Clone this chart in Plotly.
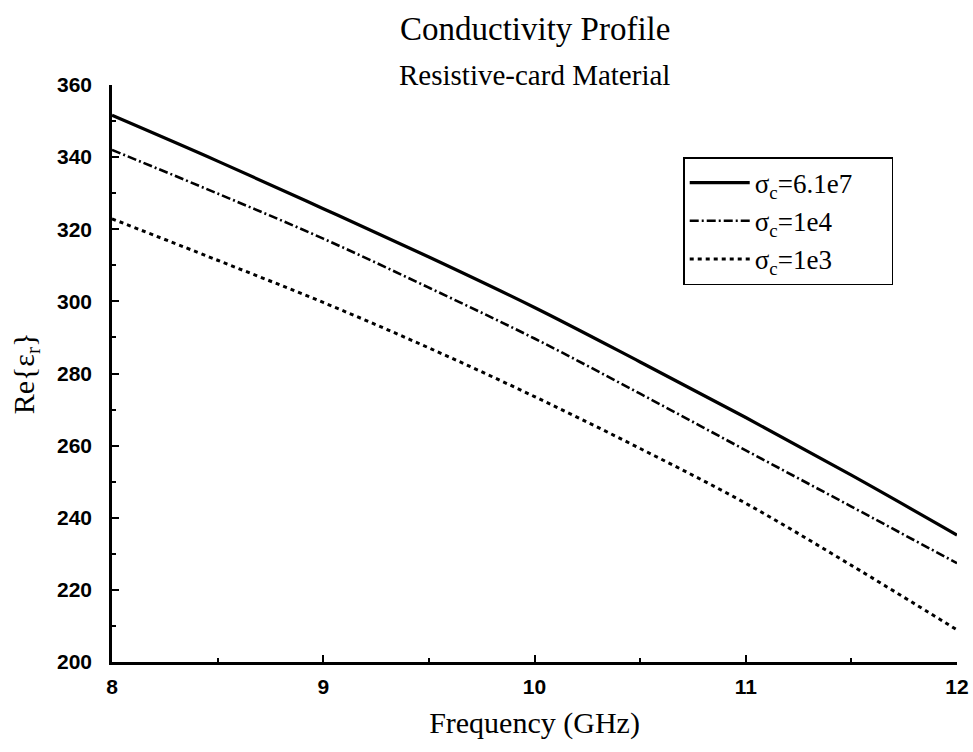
import plotly.graph_objects as go

freq = [8.0, 8.5, 9.0, 9.5, 10.0, 10.5, 11.0, 11.5, 12.0]
eps_61e7 = [351.6, 338.9, 325.7, 312.3, 298.3, 283.2, 267.8, 251.8, 235.2]
eps_1e4 = [342.0, 329.9, 317.4, 303.8, 289.7, 274.4, 258.7, 243.1, 227.4]
eps_1e3 = [322.9, 311.4, 299.7, 287.1, 273.6, 259.2, 244.0, 226.8, 208.9]
names = ["σ<sub>c</sub>=6.1e7\u00a0\u00a0\u00a0\u00a0\u00a0", "σ<sub>c</sub>=1e4", "σ<sub>c</sub>=1e3"]

serif = "Liberation Serif, Times New Roman, serif"
sans = "Liberation Sans, Arial, sans-serif"

fig = go.Figure()
fig.add_trace(go.Scatter(x=freq, y=eps_61e7, mode="lines", name=names[0],
                         line=dict(color="black", width=3.2, dash="solid", shape="spline", smoothing=1.0)))
fig.add_trace(go.Scatter(x=freq, y=eps_1e4, mode="lines", name=names[1],
                         line=dict(color="black", width=2.6, dash="9px,3px,2px,3px", shape="spline", smoothing=1.0)))
fig.add_trace(go.Scatter(x=freq, y=eps_1e3, mode="lines", name=names[2],
                         line=dict(color="black", width=3, dash="4px,4px", shape="spline", smoothing=1.0)))

fig.update_layout(
    width=973, height=752,
    margin=dict(l=112, r=16, t=85, b=90),
    paper_bgcolor="white", plot_bgcolor="white",
    showlegend=True,
    legend=dict(x=0.676, y=0.875, xanchor="left", yanchor="top",
                bordercolor="black", borderwidth=1.5, bgcolor="white",
                font=dict(family=serif, size=27, color="black"),
                tracegroupgap=0, itemwidth=60),
    annotations=[
        dict(text="Conductivity Profile", x=0.5, y=1, xref="paper", yref="paper",
             yshift=76, showarrow=False, font=dict(family=serif, size=33, color="black")),
        dict(text="Resistive-card Material", x=0.5, y=1, xref="paper", yref="paper",
             yshift=28, showarrow=False, font=dict(family=serif, size=29, color="black")),
    ],
)
fig.update_xaxes(range=[8, 12], dtick=1, tick0=8, showgrid=False, zeroline=False,
                 automargin=False,
                 showline=True, linecolor="black", linewidth=2.5,
                 ticks="inside", ticklen=7, tickwidth=1.5, tickcolor="black",
                 minor=dict(dtick=0.5, ticks="inside", ticklen=4, tickcolor="black"),
                 ticklabelstandoff=4,
                 tickfont=dict(family=sans, size=21, color="black", weight="bold"),
                 title=dict(text="Frequency (GHz)", font=dict(family=serif, size=30, color="black"),
                            standoff=16))
fig.update_yaxes(range=[200, 360], dtick=20, showgrid=False, zeroline=False,
                 automargin=False,
                 showline=True, linecolor="black", linewidth=2.5,
                 ticks="inside", ticklen=7, tickwidth=1.5, tickcolor="black",
                 minor=dict(dtick=10, ticks="inside", ticklen=4, tickcolor="black"),
                 ticklabelstandoff=13,
                 tickfont=dict(family=sans, size=21, color="black", weight="bold"),
                 title=dict(text="Re{ε<sub>r</sub>}", font=dict(family=serif, size=30, color="black"),
                            standoff=14))

fig.write_html("out.html")
